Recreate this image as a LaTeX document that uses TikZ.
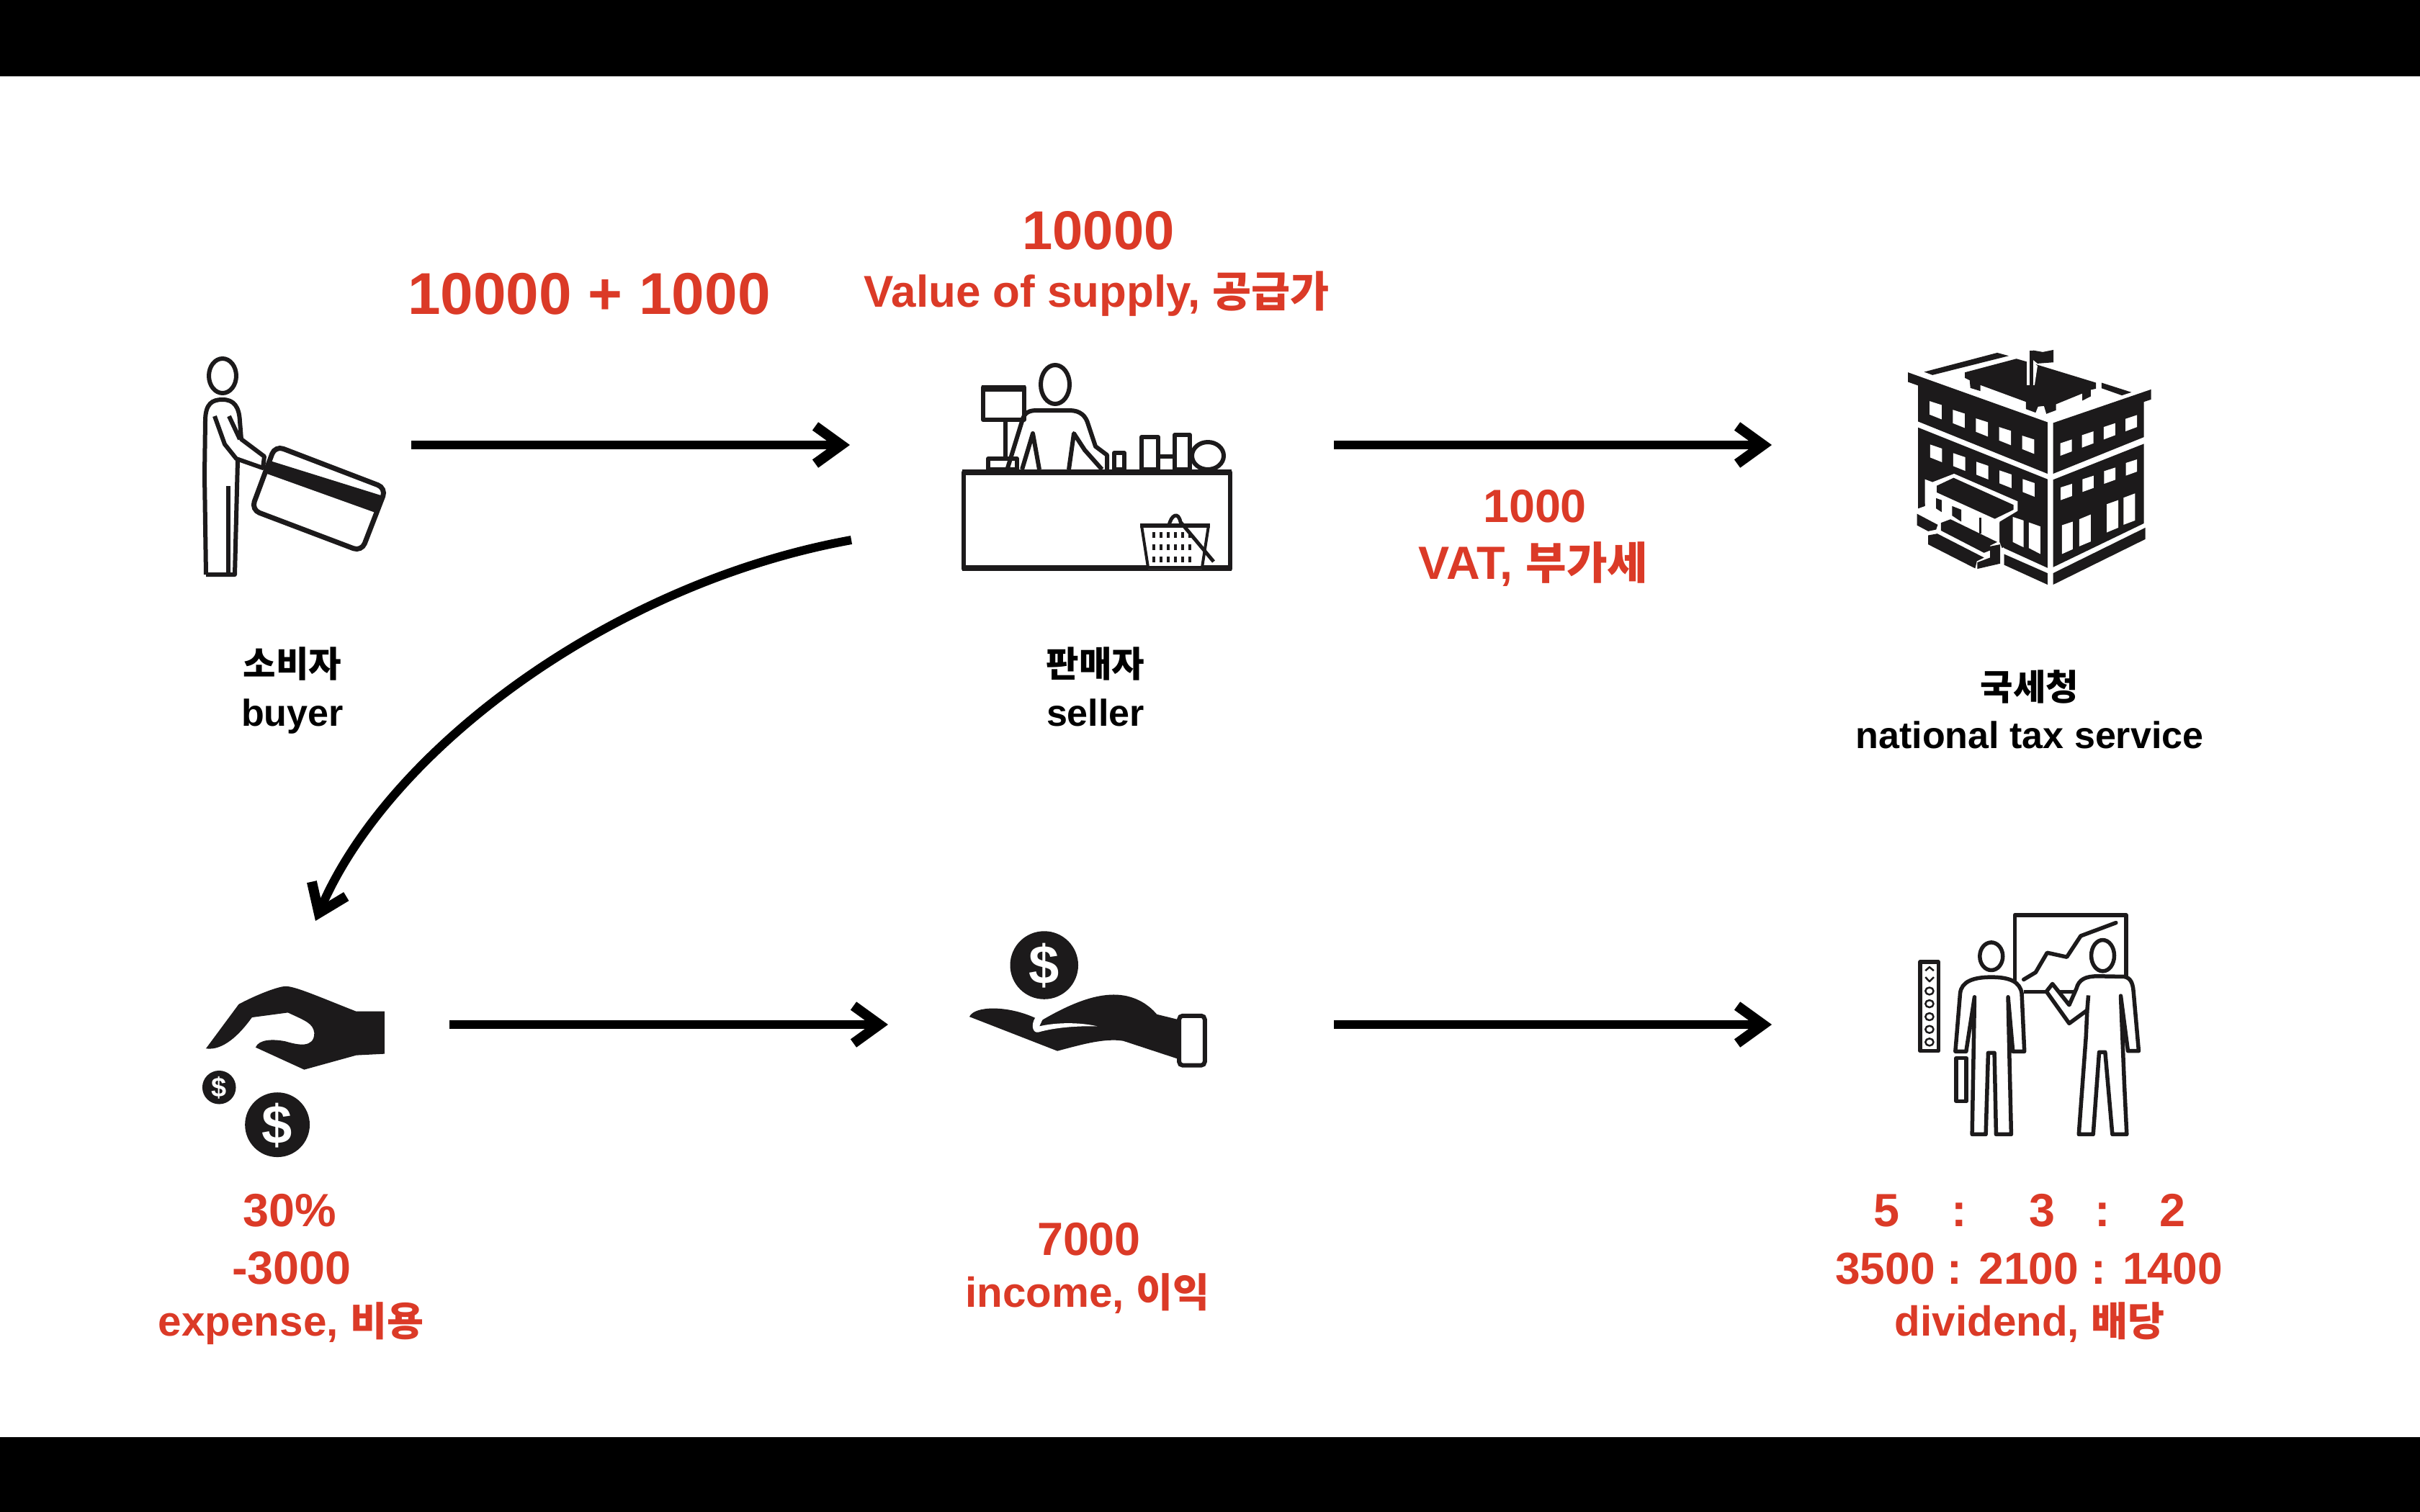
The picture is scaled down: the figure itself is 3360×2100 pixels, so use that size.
\documentclass[tikz,border=0pt]{standalone}
\usepackage{fontspec}
\setmainfont{Liberation Sans}
\newfontfamily\krfont[Scale=0.95]{Noto Sans CJK KR}
\newcommand{\kr}[1]{{\krfont\bfseries #1}}
\usepackage{tikz}
\usetikzlibrary{positioning, arrows.meta}
\definecolor{taxred}{HTML}{DB3A27}
\definecolor{iconblack}{HTML}{1C1A1B}

\begin{document}
\begin{tikzpicture}[
        x=0.01cm, y=-0.01cm,
        arrow/.style={-{Straight Barb[length=0.36cm, width=0.52cm, line width=0.14cm]}, line width=0.12cm, black},
        amount/.style={anchor=base, inner sep=0pt, text=taxred, font=\fontsize{18.4}{22}\selectfont\bfseries},
        note/.style={anchor=base, inner sep=0pt, text=taxred, font=\fontsize{16.6}{20}\selectfont\bfseries},
        actor/.style={anchor=base, inner sep=0pt, text=black, font=\fontsize{14.8}{18}\selectfont\bfseries},
        icon/.style={x=0.0033333cm, y=-0.0033333cm},
        solid ink/.style={fill=iconblack},
        thin ink/.style={draw=iconblack, line width=0.06cm, line join=round},
        dollar/.style={inner sep=0pt, text=white, font=\fontsize{21.6}{24}\selectfont\bfseries}
    ]

    \useasboundingbox (0,0) rectangle (3360,2100);
    \fill[white] (0,0) rectangle (3360,2100);

    % Black bands
    \fill[black] (0,0) rectangle (3360,106);
    \fill[black] (0,1996) rectangle (3360,2100);

    % Ends of the arrows
    \coordinate (buyerout) at (571,618);
    \coordinate (sellerin) at (1180,618);
    \coordinate (sellerout) at (1852,618);
    \coordinate (taxin) at (2460,618);
    \coordinate (sellerdown) at (1182,750);
    \coordinate (expensein) at (438,1279);
    \coordinate (expenseout) at (624,1423);
    \coordinate (incomein) at (1233,1423);
    \coordinate (incomeout) at (1852,1423);
    \coordinate (dividendin) at (2460,1423);

    \draw[arrow] (buyerout) -- (sellerin);
    \draw[arrow] (sellerout) -- (taxin);
    \draw[arrow] (sellerdown) .. controls (850,810) and (540,1040) .. (expensein);
    \draw[arrow] (expenseout) -- (incomein);
    \draw[arrow] (incomeout) -- (dividendin);

    % Red amounts, top row
    \node[amount, font=\fontsize{23.3}{26}\selectfont\bfseries] (paid) at (818,436) {10000 + 1000};
    \node[amount, font=\fontsize{21.6}{26}\selectfont\bfseries] (supply) at (1525,347) {10000};
    \node[note, font=\fontsize{17.6}{20}\selectfont\bfseries] (supplyname) at (1523,426) {Value of supply, \kr{공급가}};
    \node[amount] (vat) at (2131,725) {1000};
    \node[amount] (vatname) at (2129,804) {VAT, \kr{부가세}};

    % Red amounts, bottom row
    \node[amount] (share) at (402,1703) {30\%};
    \node[amount] (cost) at (405,1783) {-3000};
    \node[note] (costname) at (404,1855) {expense, \kr{비용}};
    \node[amount] (income) at (1512,1743) {7000};
    \node[note] (incomename) at (1510,1815) {income, \kr{이익}};
    \node[amount] (ratio) at (2818,1703) {5\hspace{0.72cm}:\hspace{0.86cm}3\hspace{0.55cm}:\hspace{0.69cm}2};
    \node[amount, font=\fontsize{17.7}{22}\selectfont\bfseries] (split) at (2817,1783) {3500 : 2100 : 1400};
    \node[note] (dividendname) at (2818,1855) {dividend, \kr{배당}};

    % Black names
    \node[actor] (buyerkr) at (406,940) {\kr{소비자}};
    \node[actor] (buyer) at (406,1008) {buyer};
    \node[actor] (sellerkr) at (1521,940) {\kr{판매자}};
    \node[actor] (seller) at (1521,1008) {seller};
    \node[actor] (taxkr) at (2818,972) {\kr{국세청}};
    \node[actor] (tax) at (2818,1039) {national tax service};

    % Buyer with card
    \draw[thin ink] (309,522) ellipse [x radius=19, y radius=24];
    \draw[thin ink] (286,798) -- (284,660) -- (285,585) .. controls (285,560) and (295,555) .. (309,555)
        .. controls (325,555) and (332,565) .. (333,585) -- (335,610) -- (367,634) -- (365,650) -- (328,637)
        -- (312,617) -- (298,578);
    \draw[thin ink] (318,578) -- (333,610);
    \draw[thin ink] (330,640) -- (326,798) -- (286,798);
    \draw[thin ink] (317,675) -- (317,798);
    \draw[draw=iconblack, line width=0.07cm, fill=white, rounded corners=0.12cm]
        (382,619) -- (536,678) -- (502,766) -- (349,708) -- cycle;
    \fill[solid ink] (375,640) -- (532,689) -- (524,713) -- (368,657) -- cycle;

    % Seller behind the counter
    \draw[thin ink] (1465,534) ellipse [x radius=20, y radius=27];
    \draw[thin ink] (1399,650) -- (1419,585) .. controls (1422,572) and (1430,570) .. (1440,570) -- (1485,570)
        .. controls (1500,570) and (1508,578) .. (1511,590) -- (1521,620) -- (1537,632) -- (1537,652);
    \draw[thin ink] (1419,652) -- (1434,602) -- (1443,652);
    \draw[thin ink] (1484,652) -- (1491,602) -- (1506,625) -- (1530,652);
    \draw[thin ink] (1365,538) rectangle (1422,583);
    \fill[solid ink] (1363,535) rectangle (1424,544);
    \draw[thin ink] (1396,583) -- (1396,636);
    \draw[thin ink] (1372,637) rectangle (1412,652);
    \draw[thin ink] (1547,629) rectangle (1561,652);
    \draw[thin ink] (1585,607) rectangle (1608,652);
    \draw[thin ink] (1631,604) rectangle (1652,652);
    \draw[thin ink] (1608,634) -- (1631,634);
    \draw[thin ink] (1677,633) ellipse [x radius=22, y radius=19];
    \draw[thin ink] (1338,656) rectangle (1708,790);
    \fill[solid ink] (1336,652) rectangle (1710,660);
    \fill[solid ink] (1336,785) rectangle (1710,793);

    % Basket on the counter
    \fill[white] (1584,730) -- (1679,730) -- (1669,790) -- (1594,790) -- cycle;
    \fill[solid ink] (1583,727) rectangle (1680,733);
    \draw[draw=iconblack, line width=0.04cm] (1585,730) -- (1594,788) (1678,730) -- (1669,788);
    \foreach \row in {743,760,777}
        \foreach \col in {1600,1610,1620,1630,1640,1650}
            \fill[solid ink] (\col,\row-4) rectangle (\col+4,\row+4);
    \draw[draw=iconblack, line width=0.05cm] (1623,730) .. controls (1626,715) and (1636,710) .. (1639,725) -- (1685,780);
    \draw[draw=iconblack, line width=0.04cm] (1584,788) -- (1680,788);

    % Tax office building
    \begin{scope}[shift={(2560,440)}, icon]
        \fill[solid ink] (268,232) -- (850,440) -- (850,655) -- (310,437) -- (310,287) -- (268,272) -- cycle;
        \fill[solid ink] (873,443) -- (1282,303) -- (1282,345) -- (1252,355) -- (1252,502) -- (873,655) -- cycle;
        \fill[solid ink] (310,462) -- (850,678) -- (850,1048) -- (668,965) -- (310,800) -- cycle;
        \fill[solid ink] (873,680) -- (1252,530) -- (1252,862) -- (873,1045) -- cycle;
        \fill[solid ink] (873,1070) -- (1258,880) -- (1258,928) -- (873,1118) -- cycle;
        \fill[solid ink] (668,990) -- (850,1070) -- (850,1118) -- (668,1035) -- cycle;
        % roof
        \fill[solid ink] (335,230) -- (640,150) -- (688,163) -- (370,243) -- cycle;
        \fill[solid ink] (1075,275) -- (1200,315) -- (1160,328) -- (1075,298) -- cycle;
        \fill[solid ink] (505,232) -- (720,175) -- (790,195) -- (1052,275) -- (1052,300) -- (1030,305) -- (1030,332)
            -- (995,350) -- (995,320) -- (885,365) -- (885,390) -- (845,405) -- (835,372) -- (810,375) -- (800,400)
            -- (760,385) -- (760,355) -- (570,285) -- (570,310) -- (528,297) -- (525,265) -- (505,255) -- cycle;
        \fill[white] (764,150) -- (775,150) -- (775,285) -- (764,285) -- cycle;
        \fill[white] (790,190) -- (808,205) -- (796,285) -- (790,285) -- cycle;
        \fill[solid ink] (775,140) rectangle (790,282);
        \fill[solid ink] (790,140) -- (830,147) -- (875,138) -- (875,190) -- (808,195) -- (790,180) -- cycle;
        % windows
        \foreach \n in {0,...,4} {
            \fill[white] (358+96.5*\n,352+36*\n) -- (408+96.5*\n,368+36*\n) -- (408+96.5*\n,428+36*\n) -- (358+96.5*\n,408+36*\n) -- cycle;
            \fill[white] (360+96.5*\n,533+36*\n) -- (410+96.5*\n,550+36*\n) -- (410+96.5*\n,607+36*\n) -- (360+96.5*\n,587+36*\n) -- cycle;
        }
        \foreach \n in {0,...,3} {
            \fill[white] (903+90.7*\n,528-34*\n) -- (951+90.7*\n,512-34*\n) -- (951+90.7*\n,562-34*\n) -- (903+90.7*\n,580-34*\n) -- cycle;
            \fill[white] (905+90.5*\n,712-34*\n) -- (952+90.5*\n,697-34*\n) -- (952+90.5*\n,748-34*\n) -- (905+90.5*\n,765-34*\n) -- cycle;
        }
        \fill[white] (910,870) -- (955,855) -- (955,970) -- (910,990) -- cycle;
        \fill[white] (982,845) -- (1030,825) -- (1030,938) -- (982,958) -- cycle;
        \fill[white] (1097,782) -- (1145,765) -- (1145,880) -- (1097,900) -- cycle;
        \fill[white] (1167,755) -- (1215,737) -- (1215,850) -- (1167,868) -- cycle;
        \fill[white] (705,835) -- (750,850) -- (750,962) -- (705,940) -- cycle;
        \fill[white] (772,858) -- (820,875) -- (820,990) -- (772,965) -- cycle;
        % entrance and stairs
        \fill[white] (338,678) -- (370,690) -- (460,655) -- (725,770) -- (725,810) -- (650,855) -- (650,940)
            -- (668,965) -- (668,1050) -- (540,1060) -- (340,960) -- (295,880) -- (295,800) -- (338,790) -- cycle;
        \fill[solid ink] (338,780) -- (338,790) -- (310,800) -- (310,770) -- cycle;
        \fill[solid ink] (388,705) -- (458,672) -- (708,785) -- (708,805) -- (630,843) -- (388,733) -- cycle;
        \fill[solid ink] (385,757) -- (408,765) -- (408,815) -- (385,800) -- cycle;
        \fill[solid ink] (452,790) -- (490,805) -- (490,855) -- (452,830) -- cycle;
        \fill[solid ink] (565,838) rectangle (575,905);
        \fill[solid ink] (305,822) -- (392,868) -- (385,888) -- (352,895) -- (305,870) -- cycle;
        \fill[solid ink] (405,860) -- (445,845) -- (640,940) -- (610,955) -- (610,975) -- (585,985) -- (405,892) -- cycle;
        \fill[solid ink] (352,912) -- (390,905) -- (585,1005) -- (555,1020) -- (548,1050) -- (352,950) -- cycle;
        \fill[solid ink] (610,958) -- (652,950) -- (652,1030) -- (557,1052) -- (557,1025) -- (610,1005) -- cycle;
        \fill[solid ink] (650,860) -- (700,835) -- (700,945) -- (660,965) -- (650,940) -- cycle;
    \end{scope}

    % Paying hand with coins
    \begin{scope}[shift={(240,1240)}, icon]
        \fill[solid ink] (138,650) -- (275,465) .. controls (330,435) and (430,392) .. (470,390)
            .. controls (510,390) and (600,430) .. (765,495) -- (883,495) -- (883,672) -- (765,678) -- (548,738)
            -- (345,645) .. controls (360,610) and (420,610) .. (470,620) .. controls (520,635) and (590,650) .. (590,585)
            .. controls (585,545) and (555,535) .. (480,500) -- (330,520) .. controls (280,590) and (210,660) .. (138,650) -- cycle;
        \fill[solid ink] (193,812) circle [radius=70];
        \fill[solid ink] (436,968) circle [radius=135];
        \node[dollar] (bigcoin) at (436,970) {\$};
        \node[dollar, font=\fontsize{10.8}{12}\selectfont\bfseries] (smallcoin) at (193,813) {\$};
    \end{scope}

    % Receiving hand with coin
    \begin{scope}[shift={(1300,1260)}, icon]
        \fill[solid ink] (450,242) circle [radius=142];
        \node[dollar] (incomecoin) at (450,244) {\$};
        \fill[solid ink] (138,457) .. controls (160,410) and (300,410) .. (412,462) -- (430,478)
            .. controls (560,400) and (660,365) .. (740,365) .. controls (820,365) and (880,400) .. (920,447)
            -- (1005,468) -- (1005,632) -- (780,558) .. controls (700,545) and (600,575) .. (505,600) -- cycle;
        \fill[white] (412,462) .. controls (395,490) and (400,525) .. (425,522) .. controls (500,500) and (600,495) .. (672,497)
            .. controls (600,480) and (500,480) .. (430,497) -- (445,465) -- cycle;
        \draw[draw=iconblack, line width=0.06cm, fill=white, rounded corners=0.05cm] (1013,453) rectangle (1120,660);
    \end{scope}

    % Two people at a chart
    \begin{scope}[shift={(2620,1240)}, icon, thin ink, line width=0.055cm]
        \draw (533,375) -- (533,93) -- (997,93) -- (997,350);
        \draw (570,413) -- (790,413);
        \draw[line cap=round] (570,362) -- (620,332) -- (668,250) -- (750,268) -- (808,180) -- (955,125);
        % first person
        \draw (435,265) ellipse [x radius=48, y radius=58];
        \draw[fill=white] (285,662) -- (305,420) .. controls (310,370) and (360,352) .. (435,352)
            .. controls (510,352) and (555,370) .. (562,420) -- (573,662) -- (525,662) -- (505,435) -- (510,660)
            -- (518,1008) -- (455,1008) -- (448,668) -- (422,668) -- (412,1008) -- (355,1008) -- (365,435) -- (330,662) -- cycle;
        \draw (289,690) rectangle (331,870);
        % second person
        \draw (900,262) ellipse [x radius=48, y radius=65];
        \draw[fill=white] (800,1008) -- (830,600) -- (835,490) -- (760,545) -- (665,412) -- (690,380) -- (760,468) -- (790,400)
            .. controls (800,360) and (830,348) .. (880,348) -- (990,350) .. controls (1015,355) and (1025,375) .. (1028,410)
            -- (1050,660) -- (1005,660) -- (975,430) -- (990,800) -- (1000,1008) -- (940,1008) -- (910,665) -- (885,665)
            -- (860,1008) -- cycle;
        \draw (840,428) -- (835,490);
        % floor panel
        \draw (138,288) rectangle (214,660);
        \draw[line width=0.025cm] (160,325) -- (177,310) -- (195,325) (160,352) -- (177,370) -- (195,352);
        \foreach \dot in {410,463,517,570,623}
            \draw[line width=0.025cm] (177,\dot) ellipse [x radius=17, y radius=15];
    \end{scope}

\end{tikzpicture}
\end{document}
